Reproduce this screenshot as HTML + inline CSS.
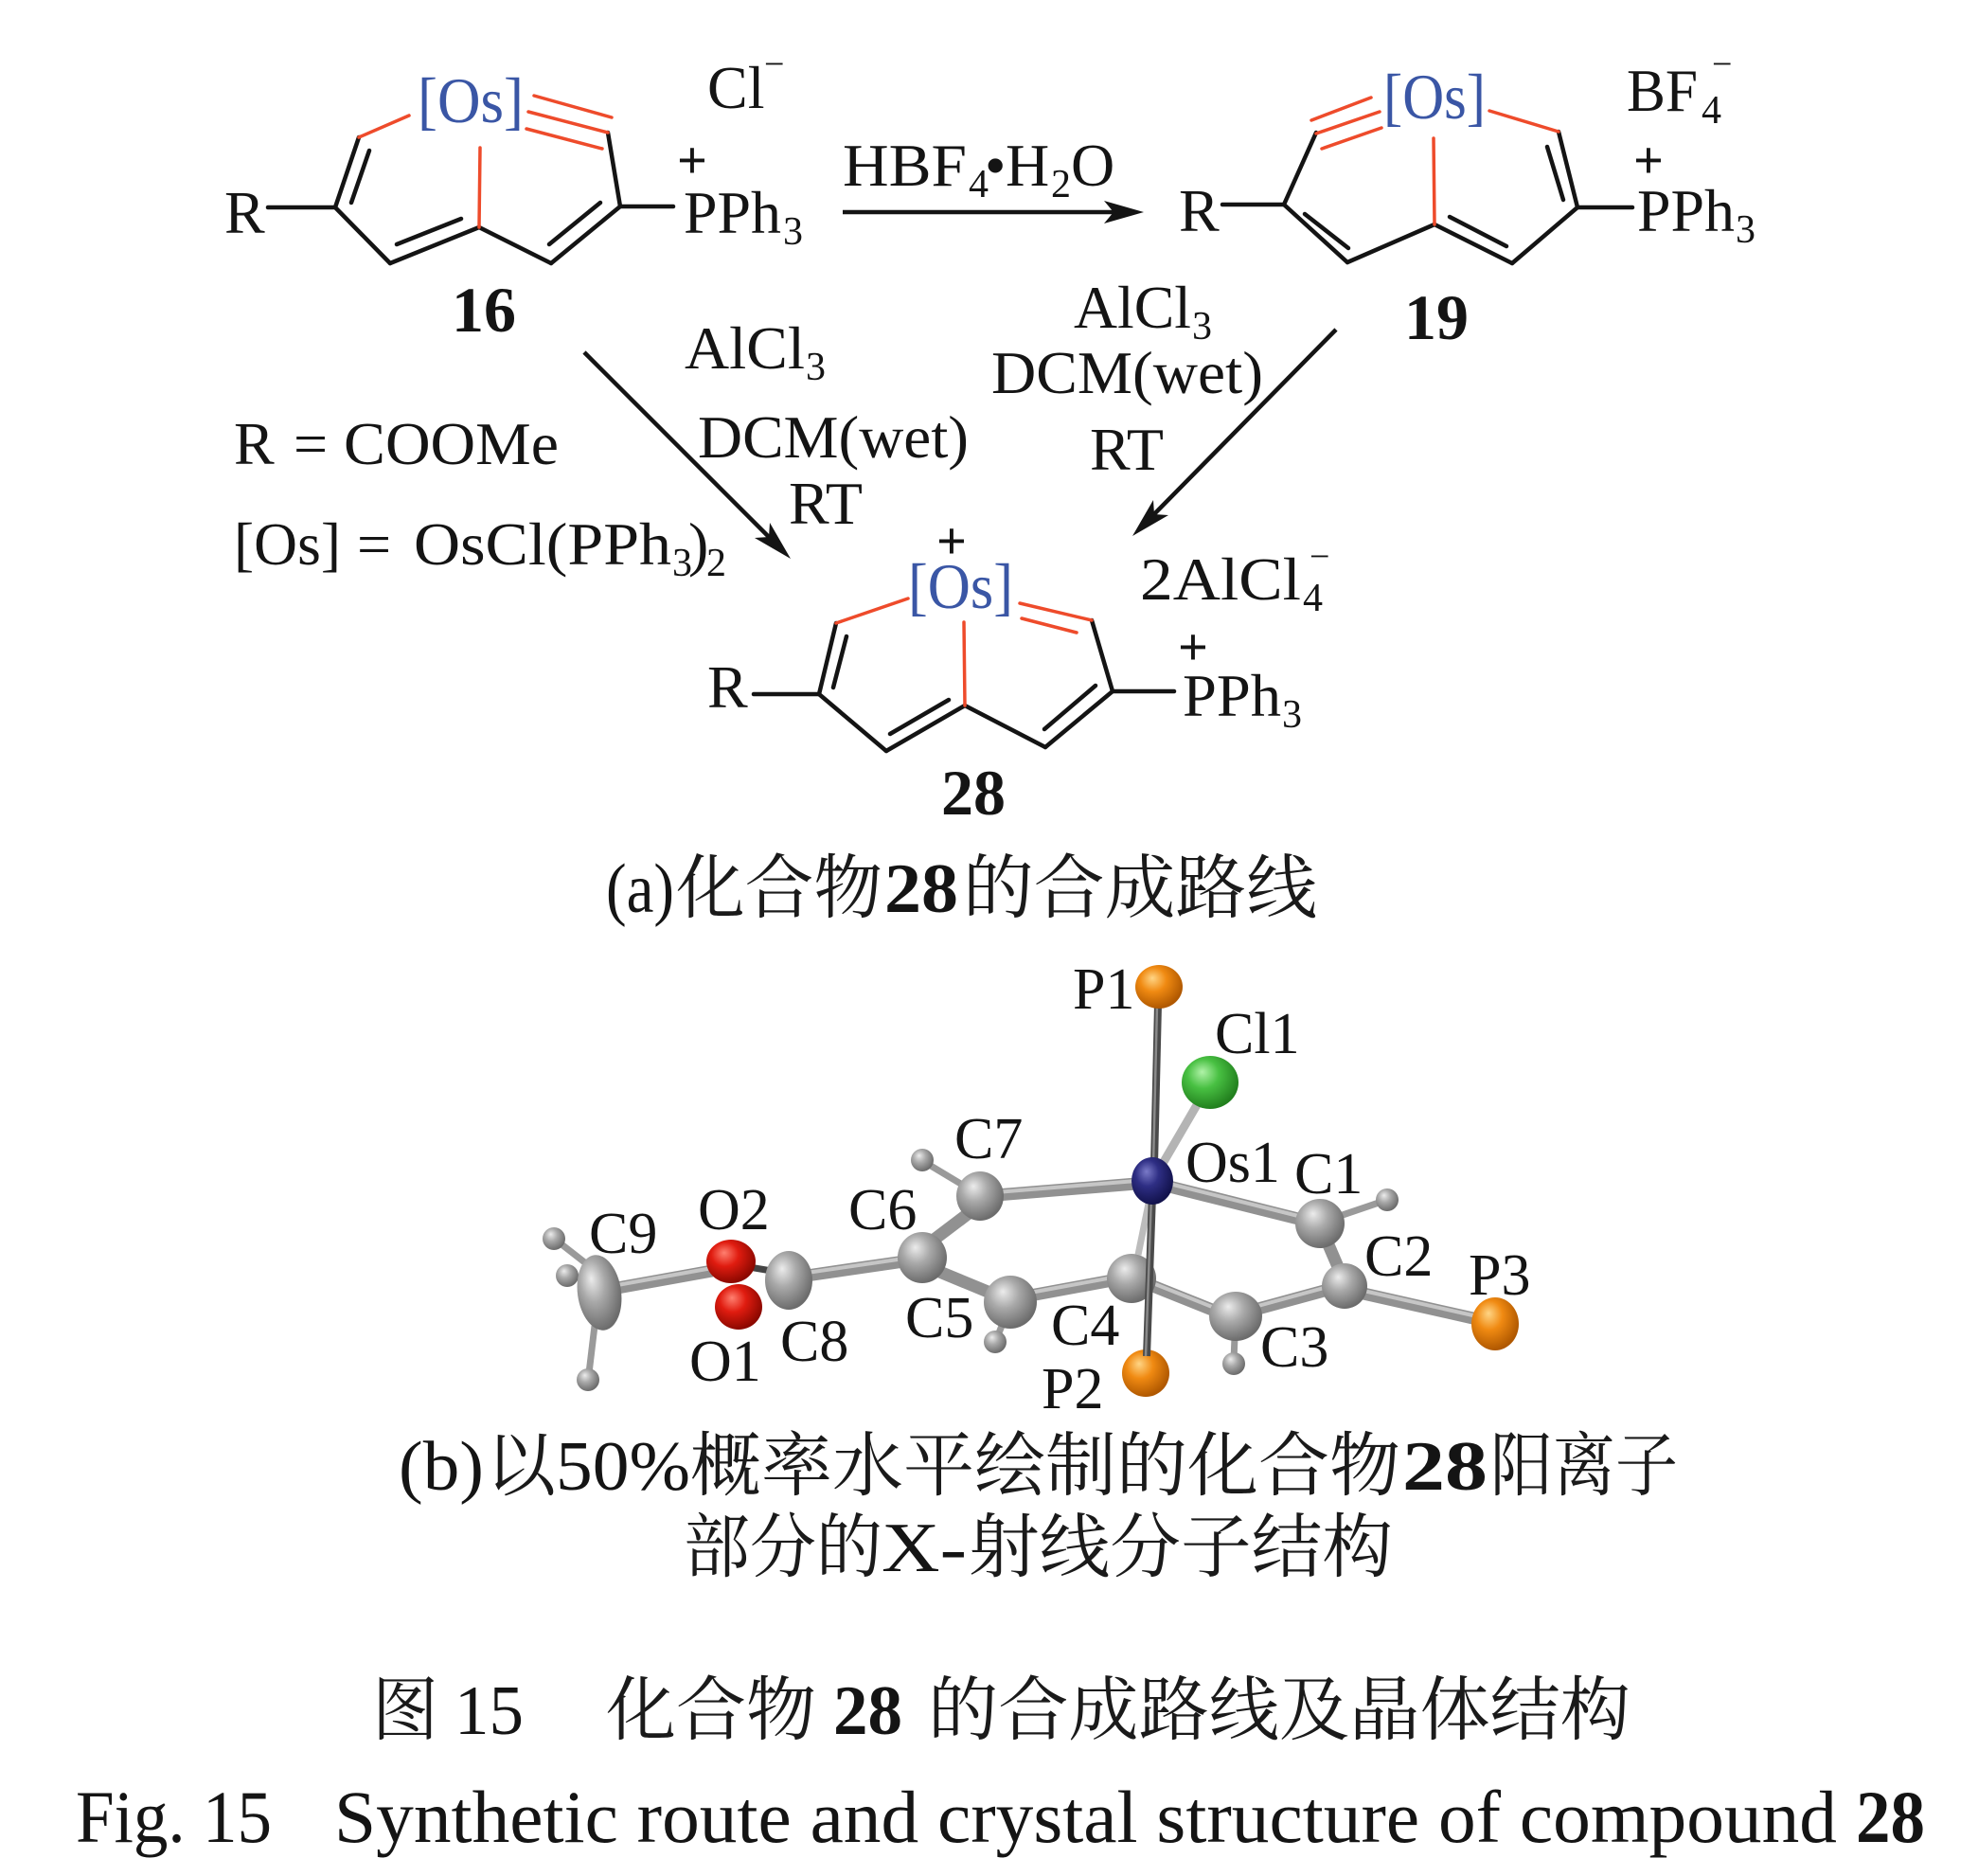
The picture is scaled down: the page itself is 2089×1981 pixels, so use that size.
<!DOCTYPE html>
<html>
<head>
<meta charset="utf-8">
<style>
  html, body { margin: 0; padding: 0; background: #ffffff; }
  svg { display: block; }
  .t { font-family: "Liberation Serif", "Noto Serif CJK SC", serif; fill: #141414; }
  .cjk { font-family: "Liberation Serif", "Noto Serif CJK SC", serif; fill: #1a1a1a; }
  .b { font-weight: bold; }
  .os { fill: #3a56a5; }
</style>
</head>
<body>
<svg width="2089" height="1981" viewBox="0 0 2089 1981" xmlns="http://www.w3.org/2000/svg">
  <defs>
    <radialGradient id="gC" cx="0.4" cy="0.38" r="0.62" fx="0.36" fy="0.3">
      <stop offset="0" stop-color="#ececec"/><stop offset="0.45" stop-color="#a9a9a9"/><stop offset="1" stop-color="#6c6c6c"/>
    </radialGradient>
    <radialGradient id="gO" cx="0.4" cy="0.38" r="0.62" fx="0.36" fy="0.3">
      <stop offset="0" stop-color="#ffd585"/><stop offset="0.45" stop-color="#f08a12"/><stop offset="1" stop-color="#b05800"/>
    </radialGradient>
    <radialGradient id="gG" cx="0.4" cy="0.38" r="0.62" fx="0.36" fy="0.3">
      <stop offset="0" stop-color="#b0f2a8"/><stop offset="0.45" stop-color="#48c042"/><stop offset="1" stop-color="#22801e"/>
    </radialGradient>
    <radialGradient id="gR" cx="0.4" cy="0.38" r="0.62" fx="0.36" fy="0.3">
      <stop offset="0" stop-color="#ff8070"/><stop offset="0.45" stop-color="#e01c10"/><stop offset="1" stop-color="#8c0800"/>
    </radialGradient>
    <radialGradient id="gN" cx="0.4" cy="0.38" r="0.62" fx="0.36" fy="0.3">
      <stop offset="0" stop-color="#7a7ac8"/><stop offset="0.45" stop-color="#2e2e84"/><stop offset="1" stop-color="#12124c"/>
    </radialGradient>
  </defs>

  <!-- ================= COMPOUND 16 ================= -->
  <g stroke-linecap="round" fill="none">
    <g stroke="#141414" stroke-width="4.5">
      <line x1="283" y1="219" x2="354" y2="219"/>
      <line x1="354" y1="219" x2="379" y2="145"/>
      <line x1="390" y1="159" x2="371" y2="214"/>
      <line x1="354" y1="219" x2="412" y2="278"/>
      <line x1="412" y1="278" x2="506" y2="240"/>
      <line x1="419" y1="258" x2="487" y2="231"/>
      <line x1="506" y1="240" x2="582" y2="278"/>
      <line x1="582" y1="278" x2="655" y2="218"/>
      <line x1="580" y1="258" x2="634" y2="214"/>
      <line x1="655" y1="218" x2="642" y2="140"/>
      <line x1="655" y1="218" x2="711" y2="218"/>
    </g>
    <g stroke="#ee4b2b" stroke-width="3.5">
      <line x1="379" y1="145" x2="432" y2="122"/>
      <line x1="564" y1="101" x2="646" y2="124"/>
      <line x1="558" y1="118" x2="642" y2="140"/>
      <line x1="556" y1="136" x2="636" y2="157"/>
      <line x1="507" y1="156" x2="506" y2="240"/>
    </g>
  </g>
  <text class="t os" x="441" y="129" font-size="68" textLength="112" lengthAdjust="spacingAndGlyphs">[Os]</text>
  <text class="t" x="237" y="246" font-size="64">R</text>
  <text class="t" x="747" y="114" font-size="64">Cl</text>
  <text class="t" x="807" y="80" font-size="38">−</text>
  <text class="t b" x="731" y="188" font-size="56" text-anchor="middle">+</text>
  <text class="t" x="722" y="246" font-size="64" textLength="103" lengthAdjust="spacingAndGlyphs">PPh</text>
  <text class="t" x="827" y="258" font-size="42">3</text>
  <text class="t b" x="477" y="350" font-size="68">16</text>

  <!-- ================= ARROW 16 -> 19 ================= -->
  <text class="t" x="890" y="196" font-size="64" textLength="131" lengthAdjust="spacingAndGlyphs">HBF</text>
  <text class="t" x="1023" y="208" font-size="42">4</text>
  <text class="t" x="1040" y="196" font-size="64">•</text>
  <text class="t" x="1062" y="196" font-size="64">H</text>
  <text class="t" x="1110" y="208" font-size="42">2</text>
  <text class="t" x="1131" y="196" font-size="64">O</text>
  <line x1="890" y1="224" x2="1180" y2="224" stroke="#141414" stroke-width="4.5"/>
  <polygon points="1208,224 1166,212 1176,224 1166,236" fill="#141414"/>

  <!-- ================= COMPOUND 19 ================= -->
  <g stroke-linecap="round" fill="none">
    <g stroke="#141414" stroke-width="4.5">
      <line x1="1291" y1="216" x2="1356" y2="216"/>
      <line x1="1356" y1="216" x2="1390" y2="140"/>
      <line x1="1356" y1="216" x2="1423" y2="277"/>
      <line x1="1378" y1="226" x2="1424" y2="262"/>
      <line x1="1423" y1="277" x2="1515" y2="237"/>
      <line x1="1515" y1="237" x2="1597" y2="278"/>
      <line x1="1531" y1="229" x2="1591" y2="260"/>
      <line x1="1597" y1="278" x2="1666" y2="219"/>
      <line x1="1666" y1="219" x2="1646" y2="139"/>
      <line x1="1634" y1="155" x2="1651" y2="211"/>
      <line x1="1666" y1="219" x2="1724" y2="219"/>
    </g>
    <g stroke="#ee4b2b" stroke-width="3.5">
      <line x1="1385" y1="127" x2="1448" y2="103"/>
      <line x1="1390" y1="141" x2="1457" y2="118"/>
      <line x1="1396" y1="157" x2="1459" y2="135"/>
      <line x1="1573" y1="117" x2="1646" y2="139"/>
      <line x1="1514" y1="146" x2="1515" y2="237"/>
    </g>
  </g>
  <text class="t os" x="1461" y="125" font-size="68" textLength="108" lengthAdjust="spacingAndGlyphs">[Os]</text>
  <text class="t" x="1245" y="244" font-size="64">R</text>
  <text class="t" x="1718" y="117" font-size="64" textLength="75" lengthAdjust="spacingAndGlyphs">BF</text>
  <text class="t" x="1797" y="130" font-size="42">4</text>
  <text class="t" x="1808" y="80" font-size="38">−</text>
  <text class="t b" x="1741" y="188" font-size="56" text-anchor="middle">+</text>
  <text class="t" x="1729" y="244" font-size="64" textLength="103" lengthAdjust="spacingAndGlyphs">PPh</text>
  <text class="t" x="1833" y="256" font-size="42">3</text>
  <text class="t b" x="1483" y="358" font-size="68">19</text>

  <!-- ================= CONDITIONS ================= -->
  <text class="t" x="723" y="389" font-size="64" textLength="127" lengthAdjust="spacingAndGlyphs">AlCl</text>
  <text class="t" x="851" y="401" font-size="42">3</text>
  <text class="t" x="737" y="483" font-size="64" textLength="286" lengthAdjust="spacingAndGlyphs">DCM(wet)</text>
  <text class="t" x="833" y="553" font-size="64">RT</text>

  <text class="t" x="1134" y="346" font-size="64" textLength="124" lengthAdjust="spacingAndGlyphs">AlCl</text>
  <text class="t" x="1259" y="358" font-size="42">3</text>
  <text class="t" x="1047" y="415" font-size="64" textLength="287" lengthAdjust="spacingAndGlyphs">DCM(wet)</text>
  <text class="t" x="1151" y="496" font-size="64">RT</text>

  <text class="t" x="247" y="490" font-size="64">R</text>
  <text class="t" x="310" y="490" font-size="64">=</text>
  <text class="t" x="363" y="490" font-size="64" textLength="227" lengthAdjust="spacingAndGlyphs">COOMe</text>

  <text class="t" x="247" y="596" font-size="64" textLength="113" lengthAdjust="spacingAndGlyphs">[Os]</text>
  <text class="t" x="377" y="596" font-size="64">=</text>
  <text class="t" x="437" y="596" font-size="64" textLength="272" lengthAdjust="spacingAndGlyphs">OsCl(PPh</text>
  <text class="t" x="710" y="608" font-size="42">3</text>
  <text class="t" x="727" y="596" font-size="64">)</text>
  <text class="t" x="746" y="608" font-size="42">2</text>

  <!-- diagonal arrows -->
  <line x1="617" y1="372" x2="818" y2="573" stroke="#141414" stroke-width="4.5"/>
  <polygon points="835,590 813,552 812,567 797,568" fill="#141414"/>
  <line x1="1411" y1="348" x2="1212" y2="550" stroke="#141414" stroke-width="4.5"/>
  <polygon points="1196,566 1218,528 1219,543 1234,544" fill="#141414"/>

  <!-- ================= COMPOUND 28 ================= -->
  <g stroke-linecap="round" fill="none">
    <g stroke="#141414" stroke-width="4.5">
      <line x1="796" y1="733" x2="865" y2="733"/>
      <line x1="865" y1="733" x2="883" y2="658"/>
      <line x1="894" y1="672" x2="880" y2="726"/>
      <line x1="865" y1="733" x2="936" y2="793"/>
      <line x1="936" y1="793" x2="1019" y2="745"/>
      <line x1="940" y1="775" x2="1002" y2="739"/>
      <line x1="1019" y1="745" x2="1104" y2="789"/>
      <line x1="1104" y1="789" x2="1175" y2="730"/>
      <line x1="1103" y1="770" x2="1157" y2="724"/>
      <line x1="1175" y1="730" x2="1153" y2="655"/>
      <line x1="1175" y1="730" x2="1240" y2="730"/>
    </g>
    <g stroke="#ee4b2b" stroke-width="3.5">
      <line x1="883" y1="658" x2="959" y2="632"/>
      <line x1="1077" y1="637" x2="1153" y2="655"/>
      <line x1="1079" y1="653" x2="1137" y2="668"/>
      <line x1="1018" y1="657" x2="1019" y2="745"/>
    </g>
  </g>
  <text class="t b" x="1005" y="590" font-size="56" text-anchor="middle">+</text>
  <text class="t os" x="959" y="642" font-size="68" textLength="111" lengthAdjust="spacingAndGlyphs">[Os]</text>
  <text class="t" x="1204" y="633" font-size="64" textLength="170" lengthAdjust="spacingAndGlyphs">2AlCl</text>
  <text class="t" x="1376" y="645" font-size="42">4</text>
  <text class="t" x="1383" y="600" font-size="38">−</text>
  <text class="t" x="747" y="747" font-size="64">R</text>
  <text class="t b" x="1260" y="702" font-size="56" text-anchor="middle">+</text>
  <text class="t" x="1249" y="756" font-size="64" textLength="104" lengthAdjust="spacingAndGlyphs">PPh</text>
  <text class="t" x="1354" y="768" font-size="42">3</text>
  <text class="t b" x="994" y="860" font-size="68">28</text>

  <!-- caption (a) -->
  <text class="t" x="640" y="963" font-size="74" textLength="72" lengthAdjust="spacingAndGlyphs">(a)</text>
  <text class="cjk" x="714" y="963" font-size="74" textLength="218" lengthAdjust="spacingAndGlyphs">化合物</text>
  <text class="t b" x="934" y="963" font-size="74" textLength="78" lengthAdjust="spacingAndGlyphs">28</text>
  <text class="cjk" x="1017" y="963" font-size="74" textLength="374" lengthAdjust="spacingAndGlyphs">的合成路线</text>

  <!-- ================= CRYSTAL STRUCTURE ================= -->
  <g stroke-linecap="butt">
    <g stroke="#9a9a9a" stroke-width="7">
      <line x1="620" y1="1335" x2="588" y2="1310"/>
      <line x1="615" y1="1350" x2="600" y2="1347"/>
      <line x1="628" y1="1400" x2="622" y2="1450"/>
      <line x1="1018" y1="1252" x2="978" y2="1228"/>
      <line x1="1060" y1="1395" x2="1052" y2="1415"/>
      <line x1="1304" y1="1412" x2="1303" y2="1436"/>
      <line x1="1412" y1="1285" x2="1462" y2="1268"/>
    </g>
    <g stroke="#919191" stroke-width="13">
      <line x1="652" y1="1360" x2="752" y2="1342"/>
      <line x1="852" y1="1347" x2="955" y2="1332"/>
      <line x1="985" y1="1310" x2="1022" y2="1282"/>
      <line x1="990" y1="1342" x2="1048" y2="1366"/>
      <line x1="1088" y1="1368" x2="1175" y2="1352"/>
      <line x1="1215" y1="1357" x2="1285" y2="1385"/>
      <line x1="1325" y1="1383" x2="1402" y2="1362"/>
      <line x1="1402" y1="1312" x2="1414" y2="1340"/>
      <line x1="1235" y1="1253" x2="1375" y2="1288"/>
      <line x1="1052" y1="1262" x2="1200" y2="1250"/>
      <line x1="1440" y1="1366" x2="1560" y2="1393"/>
    </g>
    <g stroke="#c6c6c6" stroke-width="4">
      <line x1="652" y1="1357" x2="752" y2="1339"/>
      <line x1="852" y1="1344" x2="955" y2="1329"/>
      <line x1="1088" y1="1365" x2="1175" y2="1349"/>
      <line x1="1215" y1="1354" x2="1285" y2="1382"/>
      <line x1="1325" y1="1380" x2="1402" y2="1359"/>
      <line x1="1235" y1="1250" x2="1375" y2="1285"/>
      <line x1="1052" y1="1259" x2="1200" y2="1247"/>
      <line x1="1440" y1="1363" x2="1560" y2="1390"/>
    </g>
    <line x1="1223" y1="1060" x2="1219" y2="1230" stroke="#4a4a4a" stroke-width="8"/>
    <line x1="1222" y1="1060" x2="1218" y2="1230" stroke="#8a8a8a" stroke-width="2.5"/>
    <line x1="1226" y1="1232" x2="1268" y2="1160" stroke="#b4b4b4" stroke-width="9"/>
    <line x1="785" y1="1337" x2="815" y2="1342" stroke="#444" stroke-width="7"/>
  </g>

  <!-- atoms -->
  <circle cx="585" cy="1308" r="12" fill="url(#gC)"/>
  <circle cx="599" cy="1347" r="12" fill="url(#gC)"/>
  <circle cx="621" cy="1457" r="12" fill="url(#gC)"/>
  <ellipse cx="633" cy="1365" rx="23" ry="40" transform="rotate(-8 633 1365)" fill="url(#gC)"/>
  <ellipse cx="780" cy="1380" rx="25" ry="24" fill="url(#gR)"/>
  <ellipse cx="772" cy="1332" rx="26" ry="23" fill="url(#gR)"/>
  <ellipse cx="833" cy="1352" rx="25" ry="31" fill="url(#gC)"/>
  <circle cx="974" cy="1225" r="12" fill="url(#gC)"/>
  <ellipse cx="974" cy="1328" rx="26" ry="27" fill="url(#gC)"/>
  <ellipse cx="1035" cy="1263" rx="25" ry="26" fill="url(#gC)"/>
  <circle cx="1051" cy="1417" r="12" fill="url(#gC)"/>
  <ellipse cx="1067" cy="1375" rx="28" ry="28" fill="url(#gC)"/>
  <ellipse cx="1195" cy="1350" rx="26" ry="26" fill="url(#gC)"/>
  <circle cx="1303" cy="1440" r="12" fill="url(#gC)"/>
  <ellipse cx="1305" cy="1390" rx="28" ry="26" fill="url(#gC)"/>
  <ellipse cx="1420" cy="1358" rx="24" ry="24" fill="url(#gC)"/>
  <circle cx="1465" cy="1267" r="12" fill="url(#gC)"/>
  <ellipse cx="1394" cy="1292" rx="26" ry="26" fill="url(#gC)"/>
  <ellipse cx="1579" cy="1398" rx="25" ry="28" fill="url(#gO)"/>
  <ellipse cx="1224" cy="1042" rx="25" ry="23" fill="url(#gO)"/>
  <ellipse cx="1278" cy="1143" rx="30" ry="28" fill="url(#gG)"/>
  <ellipse cx="1210" cy="1450" rx="25" ry="25" fill="url(#gO)"/>
  <line x1="1214" y1="1266" x2="1202" y2="1325" stroke="#bcbcbc" stroke-width="7"/>
  <line x1="1217" y1="1262" x2="1211" y2="1432" stroke="#4a4a4a" stroke-width="8"/>
  <line x1="1216" y1="1262" x2="1210" y2="1432" stroke="#8a8a8a" stroke-width="2.5"/>
  <ellipse cx="1217" cy="1247" rx="22" ry="25" fill="url(#gN)"/>

  <!-- atom labels -->
  <g class="t" font-size="62">
    <text class="t" x="1133" y="1065">P1</text>
    <text class="t" x="1283" y="1112">Cl1</text>
    <text class="t" x="1252" y="1248">Os1</text>
    <text class="t" x="1367" y="1260">C1</text>
    <text class="t" x="1441" y="1347">C2</text>
    <text class="t" x="1551" y="1367">P3</text>
    <text class="t" x="1331" y="1443">C3</text>
    <text class="t" x="1110" y="1420">C4</text>
    <text class="t" x="1100" y="1487">P2</text>
    <text class="t" x="956" y="1412">C5</text>
    <text class="t" x="896" y="1298">C6</text>
    <text class="t" x="1008" y="1223">C7</text>
    <text class="t" x="737" y="1298">O2</text>
    <text class="t" x="622" y="1323">C9</text>
    <text class="t" x="824" y="1437">C8</text>
    <text class="t" x="728" y="1458">O1</text>
  </g>

  <!-- caption (b) -->
  <text class="t" x="421" y="1573" font-size="74" textLength="90" lengthAdjust="spacingAndGlyphs">(b)</text>
  <text class="cjk" x="513" y="1573" font-size="74" textLength="74" lengthAdjust="spacingAndGlyphs">以</text>
  <text class="t" x="587" y="1573" font-size="74" textLength="142" lengthAdjust="spacingAndGlyphs">50%</text>
  <text class="cjk" x="729" y="1573" font-size="74" textLength="750" lengthAdjust="spacingAndGlyphs">概率水平绘制的化合物</text>
  <text class="t b" x="1481" y="1573" font-size="74" textLength="90" lengthAdjust="spacingAndGlyphs">28</text>
  <text class="cjk" x="1574" y="1573" font-size="74" textLength="198" lengthAdjust="spacingAndGlyphs">阳离子</text>

  <text class="cjk" x="722" y="1659" font-size="74" textLength="210" lengthAdjust="spacingAndGlyphs">部分的</text>
  <text class="t" x="931" y="1659" font-size="74" textLength="90" lengthAdjust="spacingAndGlyphs">X-</text>
  <text class="cjk" x="1023" y="1659" font-size="74" textLength="448" lengthAdjust="spacingAndGlyphs">射线分子结构</text>

  <!-- figure caption CN -->
  <text class="cjk" x="393" y="1831" font-size="74" textLength="70" lengthAdjust="spacingAndGlyphs">图</text>
  <text class="t" x="480" y="1831" font-size="74" textLength="73" lengthAdjust="spacingAndGlyphs">15</text>
  <text class="cjk" x="640" y="1831" font-size="74" textLength="222" lengthAdjust="spacingAndGlyphs">化合物</text>
  <text class="t b" x="880" y="1831" font-size="74" textLength="73" lengthAdjust="spacingAndGlyphs">28</text>
  <text class="cjk" x="980" y="1831" font-size="74" textLength="742" lengthAdjust="spacingAndGlyphs">的合成路线及晶体结构</text>

  <!-- figure caption EN -->
  <text class="t" x="80" y="1945" font-size="78" textLength="207" lengthAdjust="spacingAndGlyphs">Fig. 15</text>
  <text class="t" x="353" y="1945" font-size="78" textLength="1587" lengthAdjust="spacingAndGlyphs">Synthetic route and crystal structure of compound</text>
  <text class="t b" x="1960" y="1945" font-size="78" textLength="73" lengthAdjust="spacingAndGlyphs">28</text>
</svg>
</body>
</html>
